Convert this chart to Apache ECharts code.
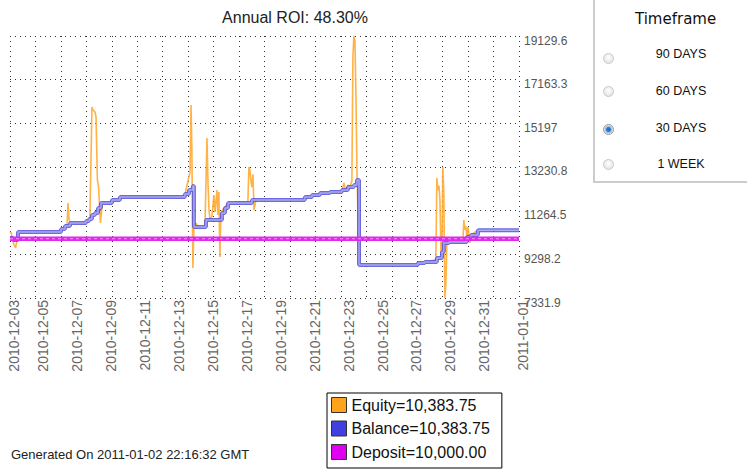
<!DOCTYPE html>
<html>
<head>
<meta charset="utf-8">
<script src="https://cdn.jsdelivr.net/npm/echarts@6/dist/echarts.min.js"></script>
<style>
  html, body { margin: 0; padding: 0; background: #fff; }
  #main { position: absolute; left: 0; top: 0; width: 747px; height: 473px; }
  #panel { position: absolute; left: 593px; top: -2px; width: 170px; height: 185px;
    box-sizing: border-box; border: 2px solid #ccc; background: #fff; }
  #panel .head { position: absolute; left: 40px; width: 80px; top: 10px; text-align: center;
    font: 15px 'DejaVu Sans'; color: #111; line-height: 18px; }
  #panel input { -webkit-appearance: none; appearance: none; position: absolute; margin: 0;
    width: 11px; height: 11px; border-radius: 50%; border: 1px solid #c9c9c9; box-sizing: border-box;
    background: radial-gradient(circle at 50% 40%, #fff 0, #e4e4e4 80%); }
  #panel input:checked { border-color: #9a9a9a;
    background: radial-gradient(circle, #1d6cc2 0, #2b7dd0 2px, #9cbfe3 3px, #e6e6e6 4.5px); }
  #panel label { position: absolute; left: 46px; width: 80px; text-align: center;
    font: 12.5px 'Liberation Sans'; color: #111; line-height: 14px; }
</style>
</head>
<body>
<div id="main"></div>
<div id="panel">
  <div class="head">Timeframe</div>
  <input type="radio" name="tf" id="tf90" style="left:8px;top:53px"><label for="tf90" style="top:47px">90 DAYS</label>
  <input type="radio" name="tf" id="tf60" style="left:8px;top:86px"><label for="tf60" style="top:84px">60 DAYS</label>
  <input type="radio" name="tf" id="tf30" style="left:8px;top:124px" checked><label for="tf30" style="top:121px">30 DAYS</label>
  <input type="radio" name="tf" id="tf7" style="left:8px;top:159px"><label for="tf7" style="top:157px">1 WEEK</label>
</div>
<script>
// x is in days counted from 2010-12-03 00:00
var xMin = 0.25;
var xMax = 30.25;
var xLabelDays = [0.25, 2, 4, 6, 8, 10, 12, 14, 16, 18, 20, 22, 24, 26, 28, 30.25];
var xLabelTexts = ['2010-12-03', '2010-12-05', '2010-12-07', '2010-12-09', '2010-12-11',
  '2010-12-13', '2010-12-15', '2010-12-17', '2010-12-19', '2010-12-21', '2010-12-23',
  '2010-12-25', '2010-12-27', '2010-12-29', '2010-12-31', '2011-01-01'];
var yTicks = [7331.9, 9298.2, 11264.5, 13230.8, 15197, 17163.3, 19129.6];

var legendNames = ['Equity', 'Balance', 'Deposit'];
var legendValues = ['10,383.75', '10,383.75', '10,000.00'];

var equityPoints = [
  [0.25, 10304], [0.33, 10250], [0.40, 9900], [0.50, 9718], [0.58, 9583], [0.65, 9900], [0.72, 10304],
  [3.26, 10304], [3.26, 10439], [3.49, 10439], [3.49, 10574], [3.61, 10574], [3.67, 11610], [3.73, 10900], [3.79, 10709],
  [4.73, 10709], [4.85, 10800], [4.96, 10980], [5.08, 15932], [5.14, 15800], [5.26, 15707], [5.32, 15482],
  [5.40, 12645], [5.47, 12330], [5.58, 10709], [5.70, 11610],
  [6.26, 11610], [6.26, 11745], [6.73, 11745], [6.73, 11880],
  [10.56, 11880], [10.62, 12195], [10.74, 12600], [10.86, 13000], [10.92, 16022], [10.97, 14000],
  [11.03, 8683], [11.09, 10529], [11.21, 10700], [11.33, 10529],
  [11.74, 10529], [11.86, 14537], [11.92, 12500], [11.98, 11300], [12.04, 10844], [12.15, 11000],
  [12.27, 11970], [12.33, 11200], [12.45, 12195], [12.50, 11069], [12.56, 12100], [12.62, 9178],
  [12.68, 11159], [12.86, 11384], [13.10, 11610],
  [14.27, 11650], [14.33, 13231], [14.39, 13100], [14.45, 12600], [14.51, 12330], [14.57, 12900],
  [14.63, 11294], [14.75, 11745],
  [17.63, 11745], [17.63, 11880], [18.05, 11880], [18.05, 11970], [18.52, 11970], [18.52, 12060],
  [19.11, 12060], [19.11, 12105], [19.81, 12105],
  [19.93, 12510], [20.05, 12150], [20.17, 12420], [20.29, 12330], [20.40, 12600], [20.46, 18184],
  [20.52, 19129.6], [20.58, 18900], [20.64, 16473], [20.70, 13000], [20.76, 11069], [20.82, 8818],
  [24.29, 8818], [24.29, 8908], [24.70, 8908], [24.70, 8953], [25.35, 9050], [25.41, 12735],
  [25.47, 12200], [25.53, 12400], [25.59, 11745], [25.65, 9400], [25.71, 9400], [25.76, 13231],
  [25.82, 12000], [25.88, 7331.9], [25.94, 8000], [26.00, 9808], [26.12, 9853],
  [26.94, 9853], [27.00, 10844], [27.06, 10400], [27.12, 10574], [27.18, 9900], [27.24, 10529],
  [27.36, 9808], [27.42, 10170], [27.83, 10383.75], [30.25, 10383.75]
];

// balance changes in steps, each value holds until the next point
var balancePoints = [
  [0.25, 10033], [0.43, 9943], [0.72, 10304], [3.26, 10439], [3.49, 10574], [3.79, 10709],
  [4.73, 10800], [4.91, 10889], [5.08, 11069], [5.26, 11159], [5.44, 11384], [5.61, 11610],
  [6.26, 11745], [6.73, 11880], [10.56, 12015], [10.80, 12195], [11.03, 12375], [11.09, 10529],
  [11.80, 10844], [12.74, 11159], [12.92, 11384], [13.10, 11610], [14.51, 11745], [17.63, 11880],
  [18.05, 11970], [18.52, 12060], [19.11, 12105], [19.81, 12195], [20.17, 12330], [20.52, 12420],
  [20.70, 12645], [20.82, 8818], [24.29, 8908], [24.70, 8953], [25.41, 9133], [25.71, 9400],
  [25.82, 9808], [26.12, 9853], [27.18, 10078], [27.42, 10170], [27.83, 10383.75], [30.25, 10383.75]
];

var depositPoints = [[0.25, 10000], [30.25, 10000]];

var colors = { Equity: '#ffa31a', Balance: '#4040e0', Deposit: '#e000f0' };

function lookup(list, texts, v) {
  for (var i = 0; i < list.length; i++) {
    if (Math.abs(list[i] - v) < 1e-6) { return texts[i]; }
  }
  return '';
}

var dotted = { type: [1, 4], color: '#333', width: 1 };

echarts.init(document.getElementById('main'), null, { renderer: 'svg' }).setOption({
  animation: false,
  textStyle: { fontFamily: 'Liberation Sans' },
  grid: { left: 10, top: 36, width: 509, height: 262 },
  graphic: [
    { type: 'text', x: 295, y: 17, style: { text: 'Annual ROI: 48.30%', font: '16px "Liberation Sans"',
      fill: '#222', textAlign: 'center', textVerticalAlign: 'middle' } },
    { type: 'text', x: 11, y: 454, style: { text: 'Generated On 2011-01-02 22:16:32 GMT',
      font: '13px "Liberation Sans"', fill: '#222', textVerticalAlign: 'middle' } }
  ],
  legend: {
    orient: 'vertical',
    left: 327,
    top: 393,
    icon: 'rect',
    itemWidth: 15,
    itemHeight: 15,
    itemGap: 7.5,
    itemTextGap: 5,
    padding: [4, 12, 8, 4],
    borderColor: '#000',
    borderWidth: 1,
    selectedMode: false,
    itemStyle: { borderColor: '#333', borderWidth: 1 },
    textStyle: { fontSize: 16, color: '#111', fontFamily: 'Liberation Sans' },
    data: legendNames.map(function (n) { return { name: n, itemStyle: { color: colors[n] } }; }),
    formatter: function (name) { return name + '=' + legendValues[legendNames.indexOf(name)]; }
  },
  xAxis: [{
    type: 'value', min: xMin, max: xMax, position: 'bottom',
    axisLine: { show: false }, axisTick: { show: false }, splitLine: { show: false },
    axisLabel: {
      customValues: xLabelDays,
      formatter: function (v) { return lookup(xLabelDays, xLabelTexts, v); },
      rotate: 90, margin: 2, fontSize: 14, color: '#666',
      verticalAlign: 'top', lineHeight: 7
    }
  }, {
    type: 'value', min: 0, max: 20, interval: 1, position: 'bottom',
    axisLine: { show: false }, axisTick: { show: false }, axisLabel: { show: false },
    splitLine: { show: true, lineStyle: dotted }
  }],
  yAxis: [{
    type: 'value', position: 'right', min: yTicks[0], max: yTicks[yTicks.length - 1],
    axisLine: { show: false }, axisTick: { show: false }, splitLine: { show: false },
    axisLabel: {
      customValues: yTicks,
      formatter: function (v) { return lookup(yTicks, yTicks.map(String), v); },
      margin: 5, fontSize: 12, color: '#555', verticalAlign: 'top', lineHeight: 9
    }
  }, {
    type: 'value', min: 0, max: 6, interval: 1, position: 'left',
    axisLine: { show: false }, axisTick: { show: false }, axisLabel: { show: false },
    splitLine: { show: true, lineStyle: dotted }
  }],
  series: [{
    name: 'Equity', type: 'line', data: equityPoints, showSymbol: false, silent: true,
    itemStyle: { color: colors.Equity },
    lineStyle: { color: '#ffa526', width: 1.6, opacity: 0.85 }
  }, {
    name: 'Balance', type: 'line', data: balancePoints, step: 'end', showSymbol: false, silent: true,
    itemStyle: { color: colors.Balance },
    lineStyle: { color: '#5050de', width: 4, opacity: 0.85 }
  }, {
    name: 'balanceCore', type: 'line', data: balancePoints, step: 'end', showSymbol: false, silent: true,
    lineStyle: { color: '#b8b8f6', width: 1.4, opacity: 0.85 }
  }, {
    name: 'Deposit', type: 'line', data: depositPoints, showSymbol: false, silent: true,
    itemStyle: { color: colors.Deposit },
    lineStyle: { color: '#e028ee', width: 4.5 }
  }, {
    name: 'depositCore', type: 'line', data: depositPoints, showSymbol: false, silent: true,
    lineStyle: { color: '#f590f8', width: 1.2, type: [3, 3] }
  }]
});
</script>
</body>
</html>
